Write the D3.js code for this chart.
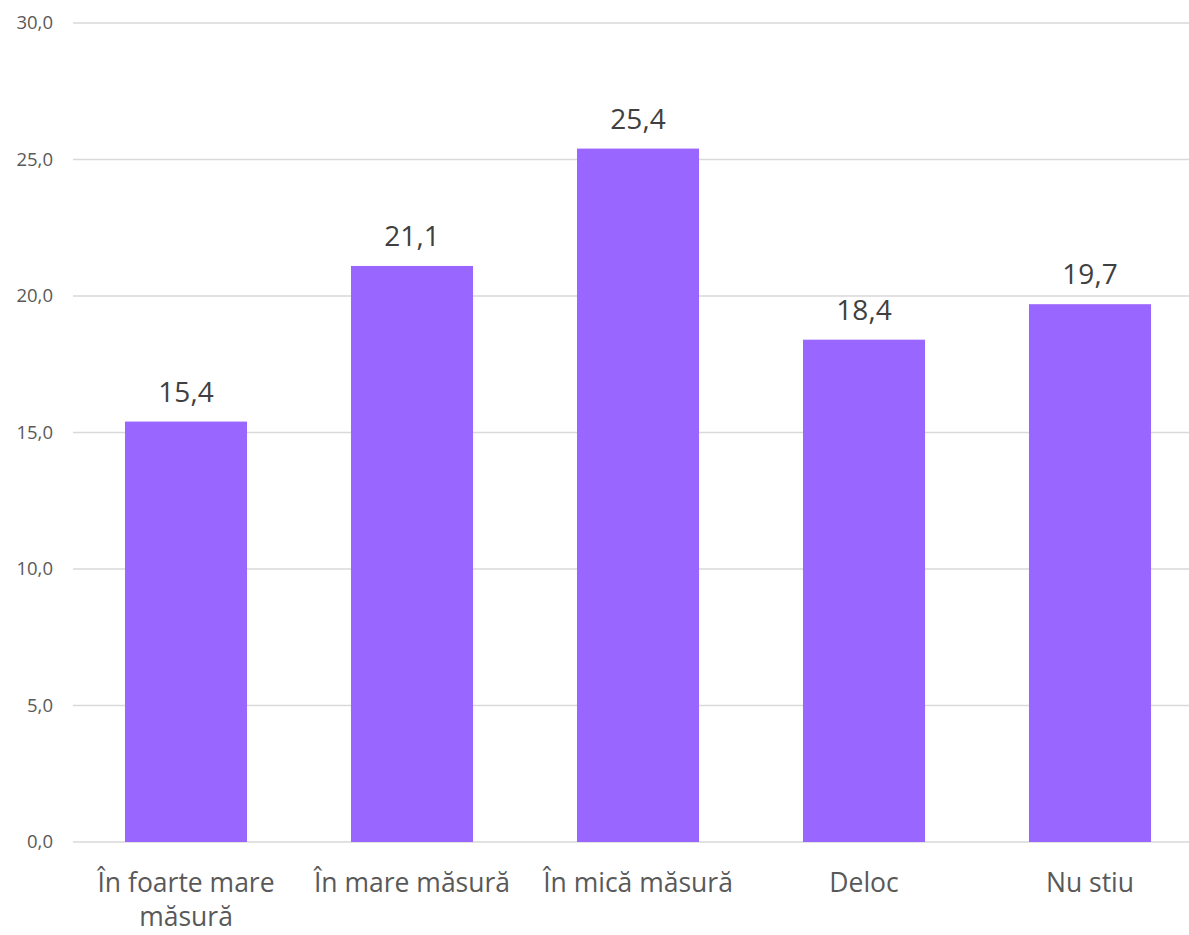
<!DOCTYPE html>
<html>
<head>
<meta charset="utf-8">
<script src="https://cdn.jsdelivr.net/npm/d3@7"></script>
<style>
  html, body { margin: 0; padding: 0; background: #fff; }
  svg { display: block; }
</style>
</head>
<body>
<svg id="chart" width="1189" height="935"></svg>
<script>
const categories = ["În foarte mare măsură", "În mare măsură", "În mică măsură", "Deloc", "Nu stiu"];
const values = [15.4, 21.1, 25.4, 18.4, 19.7];
const yTicks = [0, 5, 10, 15, 20, 25, 30];

const W = 1189, H = 935;
const fmt = v => v.toFixed(1).replace(".", ",");
const font = "'Open Sans', Lato, sans-serif";

const svg = d3.select("#chart");

const x = d3.scaleBand().domain(categories).range([73, 1203]).paddingInner(0.46).paddingOuter(0.23);
const y = d3.scaleLinear().domain([0, 30]).range([842, 23]);

// gridlines
svg.append("g").selectAll("line").data(yTicks).join("line")
  .attr("x1", 73).attr("x2", W)
  .attr("y1", d => y(d)).attr("y2", d => y(d))
  .attr("stroke", "#d9d9d9").attr("stroke-width", 1.5);

// y axis labels
const yAxis = d3.axisLeft(y).tickValues(yTicks).tickFormat(fmt).tickSize(0).tickPadding(0);
const gy = svg.append("g").attr("transform", "translate(53,0)").call(yAxis);
gy.select(".domain").remove();
gy.selectAll("text").attr("font-family", font).attr("font-size", 18.5).attr("fill", "#595959");

// bars
svg.append("g").selectAll("rect").data(values).join("rect")
  .attr("x", (d, i) => x(categories[i]))
  .attr("width", x.bandwidth())
  .attr("y", d => y(d))
  .attr("height", d => y(0) - y(d))
  .attr("fill", "#9966ff");

// data labels
svg.append("g").selectAll("text").data(values).join("text")
  .attr("x", (d, i) => x(categories[i]) + x.bandwidth() / 2)
  .attr("y", d => y(d) - 20)
  .attr("text-anchor", "middle")
  .attr("font-family", font).attr("font-size", 28).attr("fill", "#404040")
  .text(fmt);

// category labels
const xAxis = d3.axisBottom(x).tickSize(0).tickPadding(0);
const gx = svg.append("g").attr("transform", "translate(0,842)").call(xAxis);
gx.select(".domain").remove();
gx.selectAll("text")
  .attr("font-family", font).attr("font-size", 26.5).attr("fill", "#595959")
  .attr("dy", null).attr("y", null)
  .each(function(d) {
    const t = d3.select(this);
    t.text(null);
    const lines = d === "În foarte mare măsură" ? ["În foarte mare", "măsură"] : [d];
    lines.forEach((ln, i) => {
      t.append("tspan").attr("x", 0).attr("y", 50 + i * 34).text(ln);
    });
  });
</script>
</body>
</html>
